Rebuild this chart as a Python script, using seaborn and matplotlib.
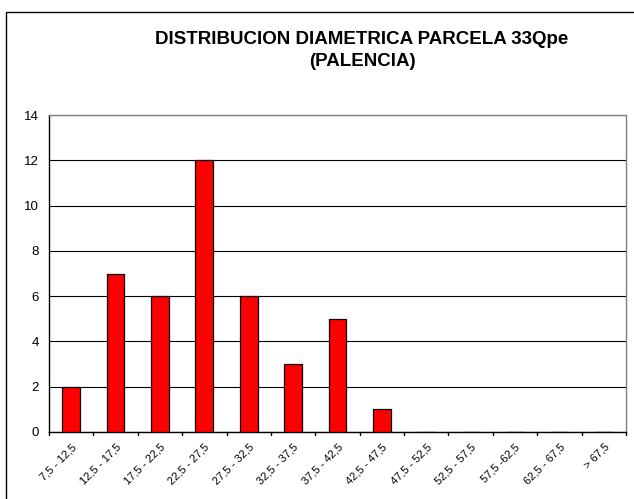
import matplotlib
matplotlib.use("Agg")
import matplotlib.pyplot as plt
import seaborn as sns
import pandas as pd
from matplotlib.patches import Rectangle

# --- DATOS ---
clases = ["7,5 - 12,5", "12,5 - 17,5", "17,5 - 22,5", "22,5 - 27,5", "27,5 - 32,5",
          "32,5 - 37,5", "37,5 - 42,5", "42,5 - 47,5", "47,5 - 52,5", "52,5 - 57,5",
          "57,5 -62,5", "62,5 - 67,5", "> 67,5"]
n_pies = [2, 7, 6, 12, 6, 3, 5, 1, 0, 0, 0, 0, 0]

df = pd.DataFrame({"clase": clases, "n": n_pies})

sns.set_style("white")
plt.rcParams["font.family"] = ["Liberation Sans", "DejaVu Sans"]
plt.rcParams["text.color"] = "black"
plt.rcParams["xtick.color"] = "black"
plt.rcParams["ytick.color"] = "black"

fig = plt.figure(figsize=(6.34, 4.99), dpi=100)
ax = fig.add_axes([49 / 634, 1 - 432 / 499, (626 - 49) / 634, (432 - 115) / 499])

sns.barplot(data=df, x="clase", y="n", color="#ff0000", saturation=1,
            edgecolor="black", linewidth=0.9, width=0.4, ax=ax, zorder=3)

ax.set_ylim(0, 14)
ax.set_xlim(-0.5, len(clases) - 0.5)
ax.set_yticks(range(0, 15, 2))
ax.yaxis.grid(True, color="black", linewidth=0.8, zorder=0)
ax.set_axisbelow(True)
ax.set_xlabel("")
ax.set_ylabel("")

for s in ["top", "right"]:
    ax.spines[s].set_color("#808080")
    ax.spines[s].set_linewidth(1)
ax.spines["left"].set_color("black")
ax.spines["bottom"].set_color("black")
ax.spines["left"].set_linewidth(1)
ax.spines["bottom"].set_linewidth(1)

# marcas de eje entre clases
ax.set_xticks([i for i in range(len(clases))])
ax.set_xticklabels(clases, rotation=45, ha="right", rotation_mode="anchor", fontsize=8)
ax.tick_params(axis="x", length=0, pad=7)
for i in range(len(clases) + 1):
    ax.plot([i - 0.5, i - 0.5], [0, -0.15], color="black", linewidth=1,
            clip_on=False, transform=ax.transData)
ax.tick_params(axis="y", direction="out", length=4, width=1, color="black", labelsize=9.5)

fig.text(0.571, 0.899, "DISTRIBUCION DIAMETRICA PARCELA 33Qpe\n(PALENCIA)",
         ha="center", va="center", multialignment="center", color="black",
         fontsize=13.5, fontweight="bold", linespacing=1.4)

# marco exterior
fig.patches.append(Rectangle((6 / 634, -0.1), 1.2, 1 - 12 / 499 + 0.1,
                             transform=fig.transFigure, fill=False,
                             edgecolor="black", linewidth=1))

plt.savefig("out.png", dpi=100)
